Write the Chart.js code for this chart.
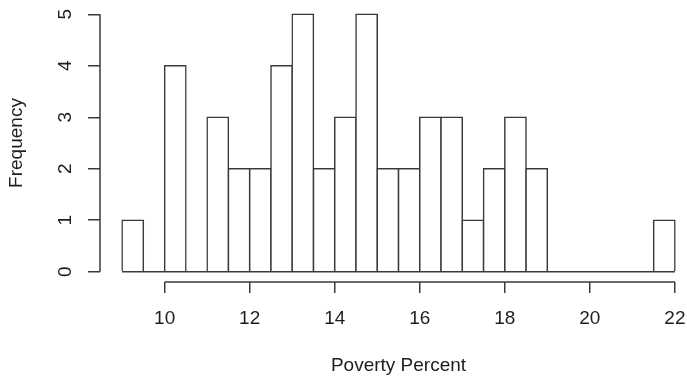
<!DOCTYPE html>
<html>
<head>
<meta charset="utf-8">
<script src="https://cdn.jsdelivr.net/npm/chart.js@4"></script>
<style>
  html, body { margin: 0; padding: 0; background: #fff; overflow: hidden; }
  /* the plot region runs a little past the right edge of the picture, as in the reference */
  #wrap { width: 697px; height: 381px; }
</style>
</head>
<body>
<div id="wrap"><canvas id="hist" width="697" height="381"></canvas></div>
<script>
// histogram bins: left edge of each bin (width 0.5) and the count in it
const binStarts = [9, 9.5, 10, 10.5, 11, 11.5, 12, 12.5, 13, 13.5, 14, 14.5, 15,
                   15.5, 16, 16.5, 17, 17.5, 18, 18.5, 19, 19.5, 20, 20.5, 21, 21.5];
const binWidth = 0.5;
const counts = [1, 0, 4, 0, 3, 2, 2, 4, 5, 2, 3, 5, 2,
                2, 3, 3, 1, 2, 3, 2, 0, 0, 0, 0, 0, 1];

const xTicks = [10, 12, 14, 16, 18, 20, 22];
const yTicks = [0, 1, 2, 3, 4, 5];

const ink = "#3a3a3a";
const textInk = "#1e1e1e";
const font = { family: "'Liberation Sans', Arial, sans-serif", size: 19 };

// R-style axis lines: only run from first to last tick
const rAxes = {
    id: "rAxes",
    afterDraw(chart) {
        const { ctx, chartArea, scales } = chart;
        const x = scales.x, y = scales.y;
        ctx.save();
        ctx.strokeStyle = ink;
        ctx.lineWidth = 1.5;
        ctx.beginPath();
        ctx.moveTo(x.getPixelForValue(xTicks[0]), chartArea.bottom);
        ctx.lineTo(x.getPixelForValue(xTicks[xTicks.length - 1]), chartArea.bottom);
        ctx.moveTo(chartArea.left, y.getPixelForValue(yTicks[0]));
        ctx.lineTo(chartArea.left, y.getPixelForValue(yTicks[yTicks.length - 1]));
        ctx.stroke();
        ctx.restore();
    },
};

const bars = binStarts.map((b, i) => ({ x: b + binWidth / 2, y: counts[i] }));
const lastEdge = binStarts[binStarts.length - 1] + binWidth;

new Chart(document.getElementById("hist"), {
    type: "bar",
    data: {
        datasets: [
            {
                type: "line",
                data: [{ x: binStarts[0], y: 0 }, { x: lastEdge, y: 0 }],
                borderColor: ink,
                borderWidth: 1.5,
                pointRadius: 0,
                order: 0,
            },
            {
                data: bars,
                backgroundColor: "#ffffff",
                borderColor: ink,
                borderWidth: 1.5,
                inflateAmount: 0.75,
                barPercentage: 1,
                categoryPercentage: 1,
                order: 1,
            },
        ],
    },
    options: {
        responsive: false,
        animation: false,
        layout: { padding: { top: 4, left: 0, right: 0, bottom: 0 } },
        plugins: {
            legend: { display: false },
            tooltip: { enabled: false },
        },
        scales: {
            x: {
                type: "linear",
                min: 8.48,
                max: 22.52,
                offset: false,
                afterBuildTicks: (s) => { s.ticks = xTicks.map((v) => ({ value: v })); },
                afterFit: (s) => {
                    s.height = 99;
                    s.paddingLeft = 0;
                    s.paddingRight = 0;
                },
                border: { display: false },
                grid: {
                    offset: false,
                    drawOnChartArea: false,
                    drawTicks: true,
                    tickLength: 11,
                    color: ink,
                    lineWidth: 1.5,
                },
                ticks: { font, color: textInk, padding: 14, maxRotation: 0 },
                title: {
                    display: true,
                    text: "Poverty Percent",
                    font,
                    color: textInk,
                    padding: { top: 0, bottom: 4 },
                },
            },
            y: {
                type: "linear",
                min: -0.2,
                max: 5.2,
                afterBuildTicks: (s) => { s.ticks = yTicks.map((v) => ({ value: v })); },
                afterFit: (s) => {
                    s.width = 100;
                    s.paddingTop = 0;
                    s.paddingBottom = 0;
                },
                border: { display: false },
                grid: {
                    drawOnChartArea: false,
                    drawTicks: true,
                    tickLength: 12,
                    color: ink,
                    lineWidth: 1.5,
                },
                ticks: {
                    font,
                    color: textInk,
                    minRotation: 90,
                    maxRotation: 90,
                    crossAlign: "center",
                    padding: 17,
                },
                title: {
                    display: true,
                    text: "Frequency",
                    font,
                    color: textInk,
                    padding: { top: 5, bottom: 0 },
                },
            },
        },
    },
    plugins: [rAxes],
});
</script>
</body>
</html>
